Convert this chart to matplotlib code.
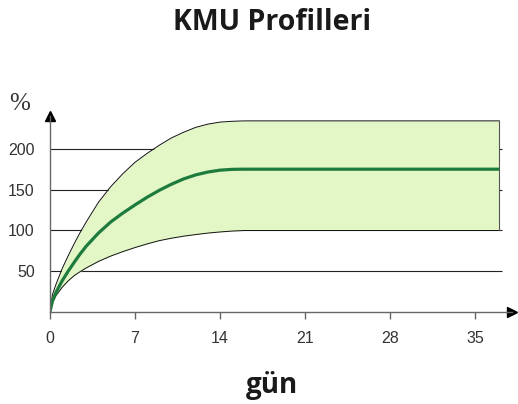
import matplotlib
matplotlib.use("Agg")
import matplotlib.pyplot as plt

# okunan değerler (gün, %)
gunler = [0, 0.2, 0.5, 1, 1.5, 2, 2.5, 3, 4, 5, 6, 7, 8, 9, 10, 11, 12, 13, 14, 15, 16, 37]
ust = [0, 21, 34, 53, 69, 84, 98, 111, 135, 154, 170, 184, 195, 205, 214, 221, 227, 231, 233.5, 234.5, 235, 235]
orta = [0, 13, 24, 38, 50, 61, 71.5, 81, 97, 110.5, 121.5, 131.5, 141, 149.5, 157, 163.5, 168.5, 172, 174.3, 175.3, 175.5, 175.5]
alt = [0, 11, 20, 30, 38, 44.5, 49.5, 54, 62, 68.5, 74, 79, 83.5, 87.5, 90.5, 93, 95, 96.8, 98.2, 99.3, 100, 100]

x_ticks = [0, 7, 14, 21, 28, 35]
y_ticks = [50, 100, 150, 200]

fig = plt.figure(figsize=(5.18, 4.04), dpi=100)
ax = fig.add_axes([50 / 518, (404 - 311.7) / 404, 461.5 / 518, (311.7 - 116) / 404])

# yatay çizgiler
ax.hlines(y_ticks, 0, 37.2, color='#222222', lw=0.8, zorder=1)

# bant
ax.fill_between(gunler, alt, ust, color='#e2f6c6', zorder=2, lw=0)
ax.plot(gunler, ust, color='#111111', lw=0.7, zorder=3)
ax.plot(gunler, alt, color='#111111', lw=0.7, zorder=3)
ax.plot([gunler[-1], gunler[-1]], [alt[-1], ust[-1]], color='#555555', lw=0.8, zorder=3)
ax.plot(gunler, orta, color='#1e7b3e', lw=2.3, zorder=4, solid_capstyle='butt')

ax.set_xlim(0, 38)
ax.set_ylim(0, 241)

for s in ['top', 'right']:
    ax.spines[s].set_visible(False)
for s in ['left', 'bottom']:
    ax.spines[s].set_color('#666666')
    ax.spines[s].set_linewidth(1.0)
    ax.spines[s].set_zorder(5)

# eksen okları
ax.plot(1, 0, '>', color='black', ms=7, transform=ax.get_yaxis_transform(), clip_on=False)
ax.plot(0, 1, '^', color='black', ms=7, transform=ax.get_xaxis_transform(), clip_on=False)

ax.set_xticks(x_ticks)
ax.set_yticks(y_ticks)
ax.tick_params(axis='x', length=5, width=1, color='#666666', pad=9,
               labelsize=11.5, labelcolor='#333333')
ax.tick_params(axis='y', length=0, pad=11, labelsize=11.5, labelcolor='#333333')
for lab in ax.get_xticklabels() + ax.get_yticklabels():
    lab.set_family('Liberation Sans')

fig.text(19.5 / 518, 1 - 104 / 404, '%', ha='center', va='center', fontsize=18,
         family='Liberation Serif', color='#333333')
fig.text(272 / 518, 1 - 22 / 404, 'KMU Profilleri', ha='center', va='center',
         fontsize=20.5, fontweight='bold', family='Open Sans', color='#1a1a1a')
fig.text(272 / 518, 1 - 386 / 404, 'gün', ha='center', va='center',
         fontsize=20, fontweight='bold', family='Open Sans', color='#1a1a1a')

fig.savefig('out.png', dpi=100)
